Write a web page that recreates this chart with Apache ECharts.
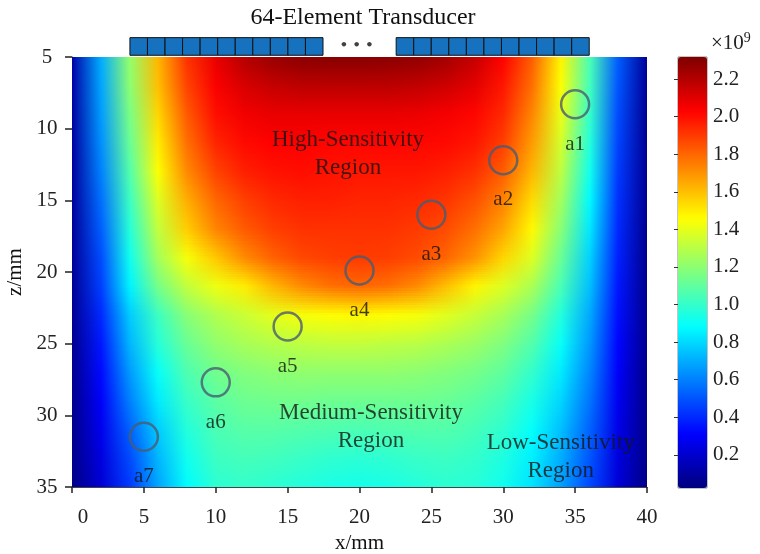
<!DOCTYPE html>
<html>
<head>
<meta charset="utf-8">
<script src="https://cdn.jsdelivr.net/npm/echarts@6/dist/echarts.min.js"></script>
<style>
  html, body { margin: 0; padding: 0; background: #fff; }
  #main { width: 760px; height: 554px; }
</style>
</head>
<body>
<div id="main"></div>
<script>
// sampling grid of the sensitivity map (mm)
var xs = [0, 2, 4, 6, 8, 10, 12, 14, 16, 18, 20, 22, 24, 26, 28, 30, 32, 34, 36, 38, 40];
var zs = [5, 7, 9, 11, 13, 15, 17, 19, 21, 23, 25, 27, 29, 31, 33, 35];

// sensitivity (x1e9), one row per depth in zs, one value per x in xs
var sens = [
  [0.12, 0.70, 1.22, 1.62, 1.92, 2.08, 2.20, 2.26, 2.29, 2.30, 2.30, 2.29, 2.28, 2.24, 2.16, 2.03, 1.82, 1.48, 1.05, 0.52, 0.08],
  [0.11, 0.68, 1.20, 1.60, 1.88, 2.04, 2.12, 2.16, 2.18, 2.18, 2.18, 2.18, 2.17, 2.14, 2.09, 1.98, 1.78, 1.45, 1.03, 0.50, 0.08],
  [0.10, 0.66, 1.16, 1.55, 1.83, 2.00, 2.06, 2.08, 2.08, 2.08, 2.08, 2.08, 2.07, 2.05, 2.02, 1.94, 1.73, 1.41, 1.00, 0.48, 0.07],
  [0.10, 0.63, 1.12, 1.50, 1.78, 1.95, 2.01, 2.03, 2.03, 2.02, 2.02, 2.02, 2.02, 2.01, 1.98, 1.89, 1.68, 1.36, 0.96, 0.46, 0.07],
  [0.09, 0.60, 1.07, 1.45, 1.72, 1.88, 1.96, 1.99, 2.00, 1.99, 1.98, 1.98, 1.98, 1.96, 1.92, 1.82, 1.62, 1.31, 0.92, 0.44, 0.07],
  [0.09, 0.56, 1.02, 1.38, 1.64, 1.80, 1.89, 1.94, 1.96, 1.96, 1.95, 1.95, 1.94, 1.91, 1.85, 1.74, 1.54, 1.25, 0.87, 0.42, 0.07],
  [0.08, 0.52, 0.97, 1.32, 1.57, 1.73, 1.83, 1.89, 1.92, 1.92, 1.92, 1.92, 1.90, 1.86, 1.78, 1.66, 1.47, 1.19, 0.83, 0.40, 0.06],
  [0.08, 0.48, 0.92, 1.25, 1.44, 1.58, 1.72, 1.81, 1.87, 1.89, 1.90, 1.89, 1.86, 1.80, 1.70, 1.55, 1.38, 1.12, 0.78, 0.38, 0.06],
  [0.07, 0.45, 0.86, 1.15, 1.32, 1.42, 1.50, 1.62, 1.72, 1.78, 1.80, 1.78, 1.72, 1.60, 1.48, 1.38, 1.27, 1.05, 0.74, 0.36, 0.06],
  [0.07, 0.40, 0.77, 1.02, 1.19, 1.28, 1.34, 1.40, 1.44, 1.46, 1.47, 1.46, 1.44, 1.39, 1.33, 1.26, 1.15, 0.96, 0.69, 0.34, 0.06],
  [0.06, 0.36, 0.72, 0.97, 1.12, 1.21, 1.26, 1.29, 1.31, 1.32, 1.32, 1.31, 1.30, 1.27, 1.23, 1.17, 1.07, 0.90, 0.65, 0.32, 0.06],
  [0.06, 0.33, 0.66, 0.90, 1.06, 1.14, 1.18, 1.20, 1.21, 1.21, 1.21, 1.21, 1.20, 1.18, 1.15, 1.10, 1.00, 0.84, 0.61, 0.30, 0.05],
  [0.05, 0.30, 0.60, 0.84, 1.01, 1.09, 1.13, 1.14, 1.14, 1.13, 1.13, 1.13, 1.13, 1.12, 1.09, 1.04, 0.94, 0.79, 0.57, 0.28, 0.05],
  [0.05, 0.27, 0.53, 0.77, 0.96, 1.05, 1.08, 1.08, 1.07, 1.06, 1.05, 1.06, 1.07, 1.07, 1.04, 0.99, 0.89, 0.74, 0.53, 0.26, 0.05],
  [0.05, 0.24, 0.48, 0.72, 0.92, 1.02, 1.04, 1.03, 1.01, 0.99, 0.98, 0.99, 1.01, 1.02, 1.00, 0.95, 0.85, 0.70, 0.50, 0.24, 0.05],
  [0.04, 0.21, 0.44, 0.68, 0.88, 0.98, 1.00, 0.98, 0.96, 0.94, 0.93, 0.94, 0.96, 0.98, 0.97, 0.92, 0.82, 0.67, 0.47, 0.22, 0.04]
];

// test points
var pointNames = ['a1', 'a2', 'a3', 'a4', 'a5', 'a6', 'a7'];
var pointX = [35, 30, 25, 20, 15, 10, 5];
var pointZ = [8.3, 12.2, 16.0, 19.9, 23.8, 27.7, 31.5];

// region annotations
var regionNames = ['High-Sensitivity\nRegion', 'Medium-Sensitivity\nRegion', 'Low-Sensitivity\nRegion'];
var regionX = [19.2, 20.8, 34.0];
var regionZ = [11.75, 30.8, 32.9];

// transducer: two visible groups of elements
var elemStart = [4.03, 22.55];
var elemPitch = 1.221;
var elemCount = 11;

// colorbar
var cbMin = 0.024, cbMax = 2.317;
var cbTicks = [0.2, 0.4, 0.6, 0.8, 1.0, 1.2, 1.4, 1.6, 1.8, 2.0, 2.2];
var jet = ['#00007F', '#0000FF', '#007FFF', '#00FFFF', '#7FFF7F', '#FFFF00', '#FF7F00', '#FF0000', '#7F0000'];

var FONT = 'Liberation Serif';
var nx = xs.length, nz = zs.length;
var STRIPS = 12; // shading sub-steps inside a cell

var cells = [];
for (var r = 0; r < nz; r++) {
  for (var c = 0; c < nx; c++) {
    cells.push([xs[c], zs[r], sens[r][c]]);
  }
}

var elems = [];
for (var b = 0; b < elemStart.length; b++) {
  for (var k = 0; k < elemCount; k++) elems.push([elemStart[b] + k * elemPitch]);
}

// same mapping as the visualMap (evenly spaced jet stops)
function jetColor(v) {
  var t = (v - cbMin) / (cbMax - cbMin);
  return echarts.color.lerp(Math.max(0, Math.min(1, t)), jet);
}

function hRamp(c0, c1) {
  return new echarts.graphic.LinearGradient(0, 0, 1, 0, [
    { offset: 0, color: c0 }, { offset: 1, color: c1 }
  ]);
}

// one shaded cell between node (r,c) and node (r+1,c+1):
// top edge ramp underneath, bottom edge ramp faded in over it
function cell(params, api) {
  var i = params.dataIndex, r = Math.floor(i / nx), c = i % nx;
  if (r === nz - 1 || c === nx - 1) return;
  var p0 = api.coord([xs[c], zs[r]]);
  var p1 = api.coord([xs[c + 1], zs[r + 1]]);
  var x0 = Math.round(p0[0]), x1 = Math.round(p1[0]);
  var y0 = Math.round(p0[1]), y1 = Math.round(p1[1]);
  var top = hRamp(jetColor(sens[r][c]), jetColor(sens[r][c + 1]));
  var bot = [jetColor(sens[r + 1][c]), jetColor(sens[r + 1][c + 1])];
  var kids = [{
    type: 'rect',
    shape: { x: x0, y: y0, width: x1 - x0, height: y1 - y0 },
    style: { fill: top }
  }];
  for (var k = 0; k < STRIPS; k++) {
    var ya = Math.round(y0 + (y1 - y0) * k / STRIPS);
    var yb = Math.round(y0 + (y1 - y0) * (k + 1) / STRIPS);
    if (yb <= ya) continue;
    kids.push({
      type: 'rect',
      shape: { x: x0, y: ya, width: x1 - x0, height: yb - ya },
      style: { fill: hRamp(bot[0], bot[1]), opacity: (k + 0.5) / STRIPS }
    });
  }
  return { type: 'group', children: kids };
}

function elemRect(params, api) {
  var x = api.value(0);
  var p0 = api.coord([x, 3.65]);
  var p1 = api.coord([x + elemPitch, 4.88]);
  return {
    type: 'rect',
    shape: { x: p0[0], y: p0[1], width: p1[0] - p0[0], height: p1[1] - p0[1] },
    style: { fill: '#1672BE', stroke: '#111', lineWidth: 1 }
  };
}

var chart = echarts.init(document.getElementById('main'));
chart.setOption({
  animation: false,
  textStyle: { fontFamily: FONT },
  title: [
    {
      text: '64-Element Transducer',
      left: 363, top: 6, textAlign: 'center', padding: 0,
      textStyle: { fontFamily: FONT, fontSize: 24, fontWeight: 'normal', color: '#111' }
    },
    {
      text: '{a|×10}{b|9}',
      left: 711, top: 31, padding: 0,
      textStyle: {
        fontWeight: 'normal',
        rich: {
          a: { fontFamily: FONT, fontSize: 21, fontWeight: 'normal', color: '#222' },
          b: { fontFamily: FONT, fontSize: 14, fontWeight: 'normal', color: '#222', padding: [0, 0, 10, 0] }
        }
      }
    }
  ],
  grid: [
    { left: 72, top: 57, width: 575, height: 430, outerBoundsMode: 'none' },
    { left: 678, top: 57, width: 29, height: 431, outerBoundsMode: 'none', show: true, borderColor: '#888', borderWidth: 1, backgroundColor: 'transparent' }
  ],
  xAxis: [
    {
      gridIndex: 0, type: 'value', min: 0, max: 40, interval: 5,
      name: 'x/mm', nameLocation: 'middle', nameGap: 46,
      nameTextStyle: { fontFamily: FONT, fontSize: 21, color: '#111' },
      axisLine: { lineStyle: { color: '#444' } },
      axisTick: { length: 6, lineStyle: { color: '#222', width: 1.5 } },
      axisLabel: {
        margin: 20, fontFamily: FONT, fontSize: 21, color: '#222',
        formatter: function (v) { return v === 0 ? '{o|0}' : String(v); },
        rich: { o: { padding: [0, 0, 0, 22], fontFamily: FONT, fontSize: 21, color: '#222' } }
      },
      splitLine: { show: false }
    },
    { gridIndex: 1, type: 'value', show: false }
  ],
  yAxis: [
    {
      gridIndex: 0, type: 'value', inverse: true, min: 5, max: 35, interval: 5,
      name: 'z/mm', nameLocation: 'middle', nameGap: 43,
      nameTextStyle: { fontFamily: FONT, fontSize: 21, color: '#111' },
      axisLine: { show: true, lineStyle: { color: '#444' } },
      axisTick: { show: true, length: 7, lineStyle: { color: '#222', width: 1.5 } },
      axisLabel: { margin: 25, align: 'center', fontFamily: FONT, fontSize: 21, color: '#222' },
      splitLine: { show: false }
    },
    {
      gridIndex: 1, type: 'value', position: 'right', min: cbMin, max: cbMax,
      axisLine: { show: false },
      axisTick: { show: true, inside: true, length: 4, customValues: cbTicks, lineStyle: { color: '#333' } },
      axisLabel: {
        customValues: cbTicks, margin: 6, fontFamily: FONT, fontSize: 21, color: '#222',
        formatter: function (v) { return v.toFixed(1); }
      },
      splitLine: { show: false }
    }
  ],
  visualMap: {
    type: 'continuous', min: cbMin, max: cbMax, dimension: 2, seriesIndex: 5,
    left: 678, top: 57, itemWidth: 29, itemHeight: 431, padding: 0,
    calculable: false, hoverLink: false, text: null,
    inRange: { color: jet }
  },
  series: [
    { type: 'custom', name: 'field', coordinateSystem: 'cartesian2d', renderItem: cell, data: cells, clip: true, silent: true, z: 1 },
    { type: 'custom', name: 'transducer', coordinateSystem: 'cartesian2d', renderItem: elemRect, data: elems, clip: false, silent: true, z: 3 },
    {
      type: 'scatter', name: 'points', z: 5,
      data: pointX.map(function (x, i) { return [x, pointZ[i], pointNames[i]]; }),
      symbol: 'circle', symbolSize: 28,
      itemStyle: { color: 'rgba(0,0,0,0)', borderColor: '#485d72', borderWidth: 2.5 },
      label: {
        show: true, position: 'bottom', distance: 14,
        formatter: function (p) { return p.data[2]; },
        fontFamily: FONT, fontSize: 21, color: '#111'
      }
    },
    {
      type: 'scatter', name: 'regions', z: 6,
      data: regionX.map(function (x, i) { return [x, regionZ[i], regionNames[i]]; }),
      symbol: 'circle', symbolSize: 1, itemStyle: { color: 'rgba(0,0,0,0)' },
      label: {
        show: true, position: 'inside',
        formatter: function (p) { return p.data[2]; },
        fontFamily: FONT, fontSize: 23, lineHeight: 28, color: '#151515'
      }
    },
    {
      type: 'scatter', name: 'gap', z: 6, clip: false,
      data: [[19.8, 4.2, '• • •']],
      symbol: 'circle', symbolSize: 1, itemStyle: { color: 'rgba(0,0,0,0)' },
      label: {
        show: true, position: 'inside',
        formatter: function (p) { return p.data[2]; },
        fontFamily: 'DejaVu Sans', fontSize: 13, fontWeight: 'bold', color: '#111'
      }
    },
    // carries the field values for the colour scale
    { type: 'custom', name: 'fieldScale', coordinateSystem: 'cartesian2d', renderItem: function () {}, data: cells, silent: true }
  ]
});
</script>
</body>
</html>
